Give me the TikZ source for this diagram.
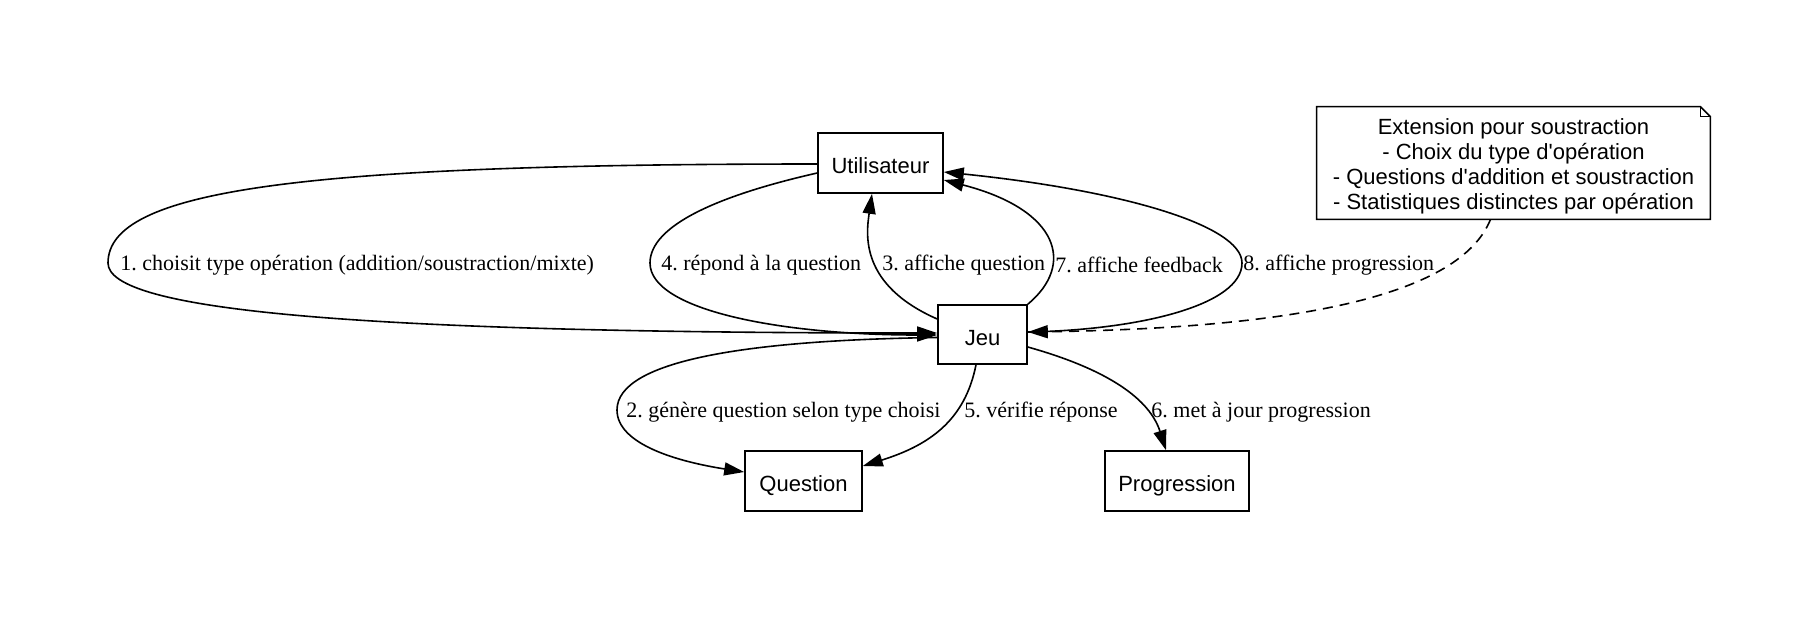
\documentclass[tikz,border=0pt]{standalone}
\usepackage{fontspec}
\setmainfont{Liberation Serif}
\setsansfont{Liberation Sans}
\usetikzlibrary{arrows.meta,calc}
\frenchspacing
\begin{document}
\begin{tikzpicture}[x=0.5pt,y=-0.5pt,
  box/.style={draw,line width=0.8pt,inner sep=0pt,text height=10.5pt,text depth=0pt,font=\sffamily\fontsize{11}{13}\selectfont},
  notebox/.style={inner sep=0pt,minimum width=196.5pt,minimum height=56pt},
  notetext/.style={inner sep=0pt,align=center,font=\sffamily\fontsize{11}{12.5}\selectfont},
  elabel/.style={font=\rmfamily\fontsize{11}{13}\selectfont,inner sep=0pt,anchor=west,yshift=-1.2pt},
  conn/.style={line width=0.8pt,-{Triangle[length=10pt,width=6.5pt]}},
  notelink/.style={conn,dash pattern=on 5pt off 3.5pt},
]
\fill[white] (0,0) rectangle (1817,617);
\useasboundingbox (0,0) rectangle (1817,617);

\node[box,minimum width=62.5pt,minimum height=30pt] (U) at (880.5,163) {Utilisateur};
\node[box,minimum width=44.5pt,minimum height=29.5pt] (J) at (982.5,334.5) {Jeu};
\node[box,minimum width=58.5pt,minimum height=30pt] (Q) at (803.5,481) {Question};
\node[box,minimum width=72pt,minimum height=30pt] (P) at (1177,481) {Progression};
\node[notebox] (N) at (1513.5,163) {};
\node[notetext,yshift=-1.7pt] (NT) at (N.center) {Extension pour soustraction\\- Choix du type d\textquotesingle opération\\- Questions d\textquotesingle addition et soustraction\\- Statistiques distinctes par opération};
\draw[line width=0.8pt] (N.north west) -- ($(N.north east)+(-10,0)$) -- ($(N.north east)+(0,10)$) -- (N.south east) -- (N.south west) -- cycle;
\draw[line width=0.8pt] ($(N.north east)+(-10,0)$) -- ($(N.north east)+(-10,10)$) -- ($(N.north east)+(0,10)$);

% edges
\draw[conn] ($(U.west)+(0,1)$) .. controls (300,164) and (108,190) .. (108,263) .. controls (108,310) and (350,333) .. ($(J.west)+(0,-1.5)$);
\draw[conn] ($(U.west)+(0,10)$) .. controls (720,195) and (650,225) .. (650,263) .. controls (650,310) and (780,335) .. ($(J.west)+(0,0.5)$);
\draw[conn] ($(J.west)+(0,-15.5)$) .. controls (860,285) and (866,235) .. ($(U.south)+(-8.5,0)$);
\draw[conn] (J.north east) .. controls (1075,265) and (1060,210) .. ($(U.east)+(0,17)$);
\draw[conn] ($(J.east)+(0,-2.5)$) .. controls (1140,330) and (1242,305) .. (1242,263) .. controls (1242,225) and (1120,190) .. ($(U.east)+(0,9)$);
\draw[notelink] ($(N.south)+(-23,0)$) .. controls (1460,295) and (1300,328) .. ($(J.east)+(0,-2.5)$);
\draw[conn] ($(J.west)+(0,3)$) .. controls (750,340) and (617,360) .. (617,410) .. controls (617,445) and (680,462) .. ($(Q.west)+(0,-9)$);
\draw[conn] ($(J.south)+(-6.5,0)$) .. controls (965,420) and (930,445) .. ($(Q.east)+(0,-15)$);
\draw[conn] ($(J.east)+(0,12.5)$) .. controls (1110,370) and (1150,400) .. ($(P.north)+(-11,0)$);

% labels
\node[elabel] (l1) at (120,263) {1. choisit type opération (addition/soustraction/mixte)};
\node[elabel] (l4) at (661,263) {4. répond à la question};
\node[elabel] (l3) at (882,263) {3. affiche question};
\node[elabel] (l7) at (1055,263) {7. affiche feedback};
\node[elabel] (l8) at (1243,263) {8. affiche progression};
\node[elabel] (l2) at (626,410) {2. génère question selon type choisi};
\node[elabel] (l5) at (964,410) {5. vérifie réponse};
\node[elabel] (l6) at (1151,410) {6. met à jour progression};
\end{tikzpicture}
\end{document}
